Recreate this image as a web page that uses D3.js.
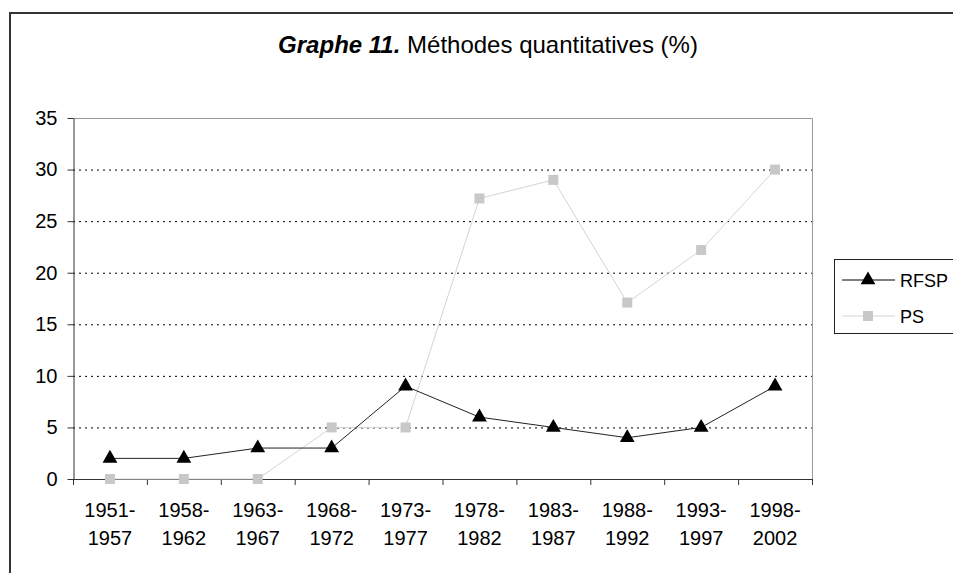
<!DOCTYPE html>
<html>
<head>
<meta charset="utf-8">
<script src="https://cdn.jsdelivr.net/npm/d3@7"></script>
<style>
  body { margin: 0; background: #fff; }
  svg { font-family: "Liberation Sans", Arial, sans-serif; }
</style>
</head>
<body>
<svg id="chart" width="953" height="573"></svg>
<script>
// periods on x axis, two lines each
const periods = [
    ["1951-", "1957"], ["1958-", "1962"], ["1963-", "1967"], ["1968-", "1972"],
    ["1973-", "1977"], ["1978-", "1982"], ["1983-", "1987"], ["1988-", "1992"],
    ["1993-", "1997"], ["1998-", "2002"]
];
const rfsp = [2, 2, 3, 3, 9, 6, 5, 4, 5, 9];
const ps = [0, 0, 0, 5, 5, 27.2, 29, 17.1, 22.2, 30];
const yTicks = [0, 5, 10, 15, 20, 25, 30, 35];

const svg = d3.select("#chart");
const margin = { left: 73, top: 118, right: 812, bottom: 479 };

// outer frame of the chart
svg.append("rect")
    .attr("x", 10).attr("y", 13)
    .attr("width", 960).attr("height", 600)
    .attr("fill", "none")
    .attr("stroke", "#333")
    .attr("stroke-width", 2);

// title
const title = svg.append("text")
    .attr("x", 488).attr("y", 53)
    .attr("text-anchor", "middle")
    .attr("font-size", 24);
title.append("tspan").attr("font-weight", "bold").attr("font-style", "italic").text("Graphe 11.");
title.append("tspan").text(" Méthodes quantitatives (%)");

const x = d3.scaleBand()
    .domain(d3.range(periods.length))
    .range([margin.left, margin.right]);

const y = d3.scaleLinear()
    .domain([0, 35])
    .range([margin.bottom, margin.top]);

// plot area border (right and top in grey)
svg.append("path")
    .attr("d", `M${margin.left},${margin.top + 0.5}H${margin.right + 0.5}V${margin.bottom}`)
    .attr("fill", "none")
    .attr("stroke", "#999")
    .attr("stroke-width", 1);

// dotted gridlines
svg.append("g")
    .selectAll("line")
    .data(yTicks.filter(d => d > 0 && d < 35))
    .enter().append("line")
    .attr("x1", margin.left).attr("x2", margin.right)
    .attr("y1", d => y(d) + 0.5).attr("y2", d => y(d) + 0.5)
    .attr("stroke", "#000")
    .attr("stroke-dasharray", "2,4");

// y axis
const yAxis = svg.append("g")
    .attr("transform", `translate(${margin.left + 0.5},0)`)
    .call(d3.axisLeft(y).tickValues(yTicks).tickSize(6).tickSizeOuter(0).tickPadding(10));
yAxis.selectAll("text").attr("font-size", 20).attr("fill", "#000").attr("font-family", "Liberation Sans, Arial, sans-serif");
yAxis.selectAll("line, path").attr("stroke", "#333");

// x axis: ticks at band edges
const xg = svg.append("g");
xg.append("line")
    .attr("x1", margin.left).attr("x2", margin.right)
    .attr("y1", margin.bottom + 0.5).attr("y2", margin.bottom + 0.5)
    .attr("stroke", "#333");
xg.selectAll("line.tick")
    .data(d3.range(periods.length + 1))
    .enter().append("line")
    .attr("class", "tick")
    .attr("x1", d => (d < periods.length ? x(d) : margin.right) + 0.5)
    .attr("x2", d => (d < periods.length ? x(d) : margin.right) + 0.5)
    .attr("y1", margin.bottom).attr("y2", margin.bottom + 6)
    .attr("stroke", "#333");
const lbl = xg.selectAll("text")
    .data(periods)
    .enter().append("text")
    .attr("text-anchor", "middle")
    .attr("font-size", 20)
    .attr("transform", (d, i) => `translate(${x(i) + x.bandwidth() / 2},0)`);
lbl.append("tspan").attr("x", 0).attr("y", 517).text(d => d[0]);
lbl.append("tspan").attr("x", 0).attr("y", 545).text(d => d[1]);

const cx = i => x(i) + x.bandwidth() / 2;
const line = d3.line().x((d, i) => cx(i)).y(d => y(d));

// PS series (grey squares)
svg.append("path")
    .datum(ps)
    .attr("d", line)
    .attr("fill", "none")
    .attr("stroke", "#d4d4d4")
    .attr("stroke-width", 1);
svg.append("g")
    .selectAll("rect")
    .data(ps)
    .enter().append("rect")
    .attr("x", (d, i) => cx(i) - 5)
    .attr("y", d => y(d) - 5)
    .attr("width", 10).attr("height", 10)
    .attr("fill", "#c8c8c8");

// RFSP series (black triangles)
const tri = d3.symbol().type(d3.symbolTriangle).size(95);
svg.append("path")
    .datum(rfsp)
    .attr("d", line)
    .attr("fill", "none")
    .attr("stroke", "#222")
    .attr("stroke-width", 1);
svg.append("g")
    .selectAll("path")
    .data(rfsp)
    .enter().append("path")
    .attr("d", tri)
    .attr("transform", (d, i) => `translate(${cx(i)},${y(d)})`)
    .attr("fill", "#000");

// legend
const lg = svg.append("g");
lg.append("rect")
    .attr("x", 834.5).attr("y", 259.5)
    .attr("width", 140).attr("height", 74)
    .attr("fill", "#fff")
    .attr("stroke", "#222");
lg.append("line").attr("x1", 842).attr("x2", 895).attr("y1", 280).attr("y2", 280).attr("stroke", "#000");
lg.append("path").attr("d", tri).attr("transform", "translate(868,280)").attr("fill", "#000");
lg.append("text").attr("x", 900).attr("y", 287).attr("font-size", 18).text("RFSP");
lg.append("line").attr("x1", 842).attr("x2", 895).attr("y1", 316).attr("y2", 316).attr("stroke", "#d4d4d4");
lg.append("rect").attr("x", 863).attr("y", 311).attr("width", 10).attr("height", 10).attr("fill", "#c8c8c8");
lg.append("text").attr("x", 900).attr("y", 323).attr("font-size", 18).text("PS");
</script>
</body>
</html>
